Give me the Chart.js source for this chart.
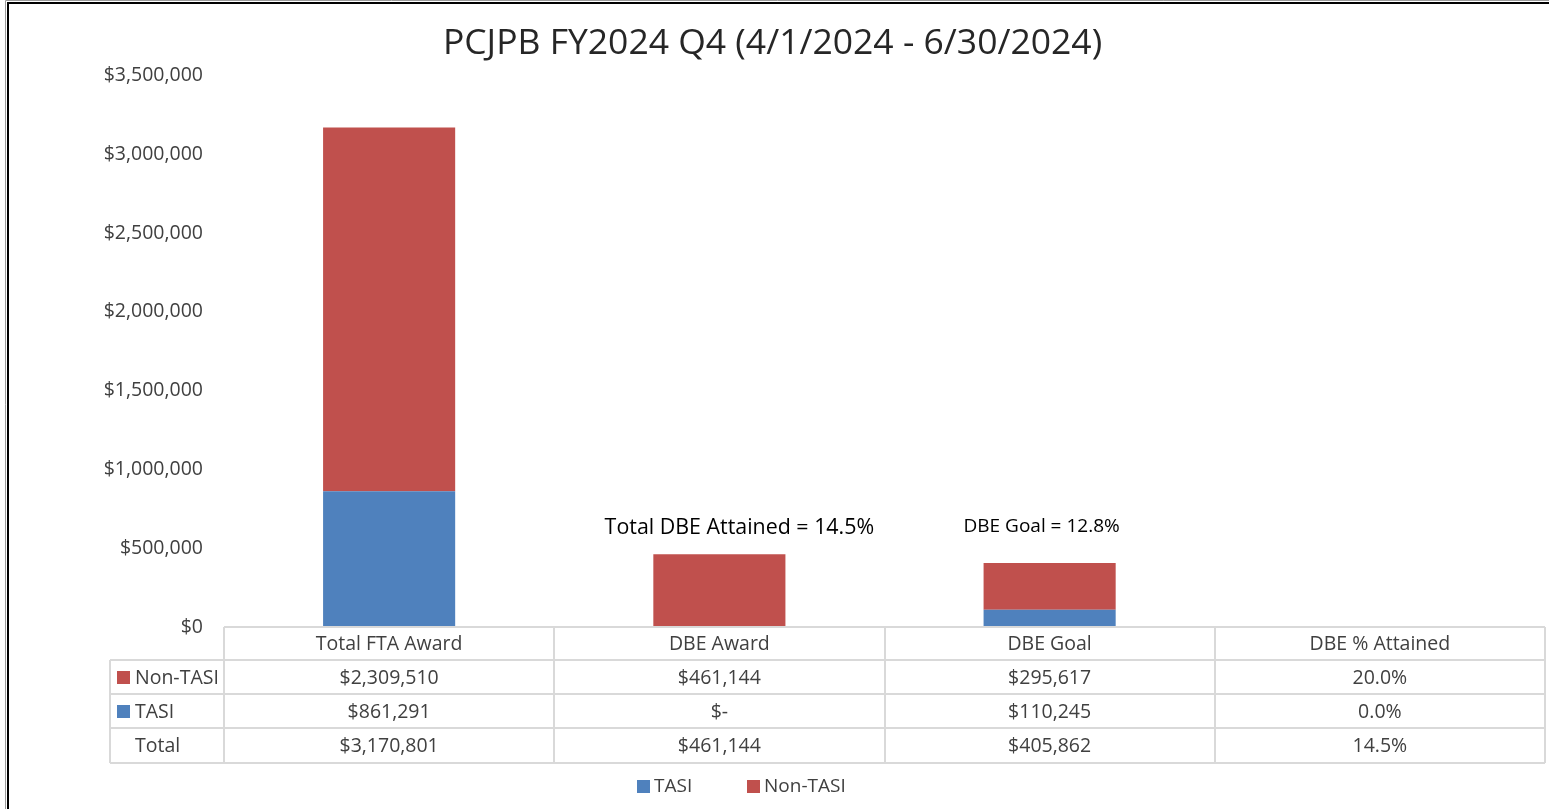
<!DOCTYPE html>
<html><head><meta charset="utf-8">
<script src="https://cdn.jsdelivr.net/npm/chart.js@4.4.1/dist/chart.umd.min.js"></script>
<style>html,body{margin:0;padding:0;background:#fff;overflow:hidden}#wrap{width:1549px;height:809px;position:relative}</style>
</head><body><div id="wrap"><canvas id="c"></canvas></div>
<script>
const categories = ['Total FTA Award', 'DBE Award', 'DBE Goal', 'DBE % Attained'];
const seriesNames = ['TASI', 'Non-TASI'];
const tasiValues = [861291, 0, 110245, 0];
const nonTasiValues = [2309510, 461144, 295617, 0.2];
const totalValues = [3170801, 461144, 405862, 0.145];
const columnFormats = ['currency', 'currency', 'currency', 'percent'];
const yTickValues = [0, 500000, 1000000, 1500000, 2000000, 2500000, 3000000, 3500000];
const titleText = 'PCJPB FY2024 Q4 (4/1/2024 - 6/30/2024)';
const annotationTexts = ['Total DBE Attained = 14.5%', 'DBE Goal = 12.8%'];
const annotationCategories = [1, 2];
const annotationValues = [630000, 640000];

const BLUE = '#4F81BD', RED = '#C0504D', TXT = '#404040', GRID = '#D9D9D9';
const FONT = '"Open Sans", "Liberation Sans", sans-serif';

function fmt(v, kind) {
  if (kind === 'percent') return (v * 100).toFixed(1) + '%';
  if (v === 0) return '$-';
  return '$' + Math.round(v).toLocaleString('en-US');
}

const tablePlugin = {
  id: 'tablePlugin',
  beforeDraw(chart) {
    const ctx = chart.ctx;
    ctx.save();
    ctx.fillStyle = '#fff';
    ctx.fillRect(0, 0, chart.width, chart.height);
    ctx.strokeStyle = '#9a9a9a'; ctx.lineWidth = 1;
    ctx.beginPath(); ctx.moveTo(5.5, chart.height); ctx.lineTo(5.5, 0.5); ctx.lineTo(chart.width, 0.5); ctx.stroke();
    ctx.strokeStyle = '#000'; ctx.lineWidth = 2;
    ctx.beginPath(); ctx.moveTo(8, chart.height); ctx.lineTo(8, 3); ctx.lineTo(chart.width, 3); ctx.stroke();
    ctx.restore();
  },
  afterDraw(chart) {
    const ctx = chart.ctx, x = chart.scales.x, y = chart.scales.y, ca = chart.chartArea;
    const n = categories.length;
    const cw = (ca.right - ca.left) / n;
    const top = Math.round(ca.bottom);
    const rowsY = [top, top + 33, top + 67, top + 101, top + 136];
    const leftCol = 110;
    ctx.save();
    // annotations
    ctx.fillStyle = '#000';
    ctx.textAlign = 'center'; ctx.textBaseline = 'middle';
    const annDx = [20, -8], annSize = [21.4, 19];
    annotationTexts.forEach((t, i) => {
      ctx.font = annSize[i] + 'px ' + FONT;
      ctx.fillText(t, x.getPixelForValue(annotationCategories[i]) + annDx[i], y.getPixelForValue(annotationValues[i]));
    });
    // grid
    ctx.strokeStyle = GRID; ctx.lineWidth = 2;
    ctx.beginPath();
    ctx.moveTo(ca.left, rowsY[0]); ctx.lineTo(ca.right, rowsY[0]);
    for (let r = 1; r < rowsY.length; r++) { ctx.moveTo(leftCol, rowsY[r]); ctx.lineTo(ca.right, rowsY[r]); }
    ctx.moveTo(leftCol, rowsY[1]); ctx.lineTo(leftCol, rowsY[4]);
    for (let c = 0; c <= n; c++) { const px = Math.round(ca.left + c * cw); ctx.moveTo(px, rowsY[0]); ctx.lineTo(px, rowsY[4]); }
    ctx.stroke();
    // text
    ctx.fillStyle = TXT; ctx.font = '19.5px ' + FONT;
    ctx.textAlign = 'center';
    const rowVals = [null, nonTasiValues, tasiValues, totalValues];
    for (let c = 0; c < n; c++) {
      const cx = x.getPixelForValue(c);
      ctx.fillText(categories[c], cx, (rowsY[0] + rowsY[1]) / 2 + 1);
      for (let r = 1; r < 4; r++) ctx.fillText(fmt(rowVals[r][c], columnFormats[c]), cx, (rowsY[r] + rowsY[r + 1]) / 2 + 1);
    }
    ctx.textAlign = 'left';
    const rowNames = [seriesNames[1], seriesNames[0], 'Total'];
    const rowCols = [RED, BLUE, null];
    for (let r = 0; r < 3; r++) {
      const cy = (rowsY[r + 1] + rowsY[r + 2]) / 2;
      if (rowCols[r]) { ctx.fillStyle = rowCols[r]; ctx.fillRect(117, cy - 6, 13, 13); }
      ctx.fillStyle = TXT; ctx.fillText(rowNames[r], 135, cy + 1);
    }
    // bottom legend
    ctx.font = '19px ' + FONT;
    const legY = 786;
    const items = [[seriesNames[0], BLUE, 637], [seriesNames[1], RED, 747]];
    items.forEach(([t, col, lx]) => {
      ctx.fillStyle = col; ctx.fillRect(lx, legY - 6, 13, 13);
      ctx.fillStyle = TXT; ctx.fillText(t, lx + 17, legY + 1);
    });
    ctx.restore();
  }
};

new Chart(document.getElementById('c'), {
  type: 'bar',
  data: {
    labels: categories,
    datasets: [
      { label: seriesNames[0], data: tasiValues, backgroundColor: BLUE, barPercentage: 0.4, categoryPercentage: 1 },
      { label: seriesNames[1], data: nonTasiValues, backgroundColor: RED, barPercentage: 0.4, categoryPercentage: 1 }
    ]
  },
  options: {
    responsive: true, maintainAspectRatio: false, animation: false,
    layout: { padding: { left: 0, right: 4, top: 0, bottom: 0 } },
    plugins: {
      legend: { display: false },
      tooltip: { enabled: false },
      title: { display: true, text: titleText, color: '#262626', font: { family: FONT, size: 35.5, weight: 'normal' }, padding: { top: 23, bottom: 10 } }
    },
    scales: {
      x: {
        stacked: true,
        grid: { display: false, drawTicks: false }, border: { display: false },
        ticks: { display: false },
        afterFit(s) { s.height = 182; }
      },
      y: {
        stacked: true, min: 0, max: 3500000,
        afterBuildTicks(s) { s.ticks = yTickValues.map(v => ({ value: v })); },
        grid: { display: false, drawTicks: false }, border: { display: false },
        ticks: { color: TXT, padding: 21, font: { family: FONT, size: 19.5 }, callback: v => '$' + Number(v).toLocaleString('en-US') },
        afterFit(s) { s.width = 224; }
      }
    }
  },
  plugins: [tablePlugin]
});
</script>
</body></html>
